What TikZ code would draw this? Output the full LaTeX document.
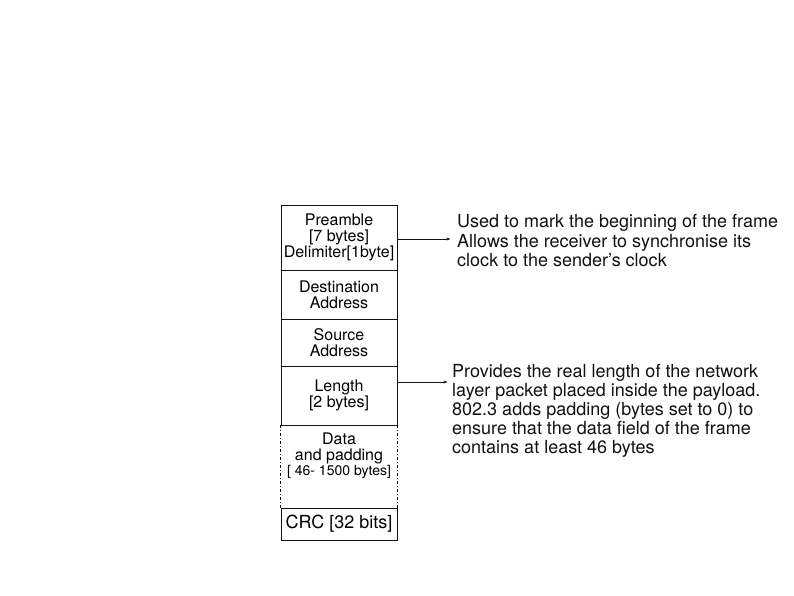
\documentclass[tikz,border=0pt]{standalone}
\usepackage{fontspec}
\setmainfont{TeX Gyre Heros}
\usepackage{tikz}
\usetikzlibrary{arrows.meta,positioning,calc}
\definecolor{ink}{HTML}{111111}
\tikzset{
  field/.style={rectangle, draw=ink, line width=0.8pt, minimum width=116pt, inner sep=0pt,
                align=center, font=\fontsize{16}{16}\selectfont},
  open/.style={field, draw=none},
  sidedash/.style={draw=ink, line width=0.6pt, dash pattern=on 3pt off 2pt on 1pt off 2pt},
  note/.style={anchor=west, align=left, inner sep=0pt, text=ink},
  flow/.style={-{Stealth[length=4pt,width=3pt]}, draw=ink, line width=0.6pt},
}
\begin{document}
\begin{tikzpicture}[x=1pt,y=-1pt]
\useasboundingbox (0,0) rectangle (794,595);

\node[field, minimum height=65pt] (pre) at (339,237.5) {Preamble\\{}[7 bytes]\\Delimiter[1byte]};
\node[field, minimum height=49pt] (dst) at (339,294.5) {Destination\\Address};
\node[field, minimum height=47pt] (src) at (339,342.5) {Source\\Address};
\node[field, minimum height=59pt] (len) at (339,395.5) {Length\\{}[2 bytes]};
\node[open,  minimum height=60pt] (data) at (339,456) {Data\\and padding\\[-1pt]{\fontsize{14}{14}\selectfont [ 46- 1500 bytes]}};
\node[field, minimum height=32pt, font=\fontsize{18}{18}\selectfont] (crc) at (339,524) {CRC [32 bits]};

\draw[sidedash] (len.south west) -- (crc.north west);
\draw[sidedash] (len.south east) -- (crc.north east);

\node[note, font=\fontsize{18}{19.5}\selectfont] (why) at (457,241)
  {Used to mark the beginning of the frame\\Allows the receiver to synchronise its\\clock to the sender’s clock};
\node[note, font=\fontsize{18}{19}\selectfont] (pad) at (452,411)
  {Provides the real length of the network\\layer packet placed inside the payload.\\802.3 adds padding (bytes set to 0) to\\ensure that the data field of the frame\\contains at least 46 bytes};

\draw[flow] ([yshift=-1.5pt]pre.east) -- ++(53,0);
\draw[flow] ([yshift=13.5pt]len.east) -- ++(50,0);
\end{tikzpicture}
\end{document}
